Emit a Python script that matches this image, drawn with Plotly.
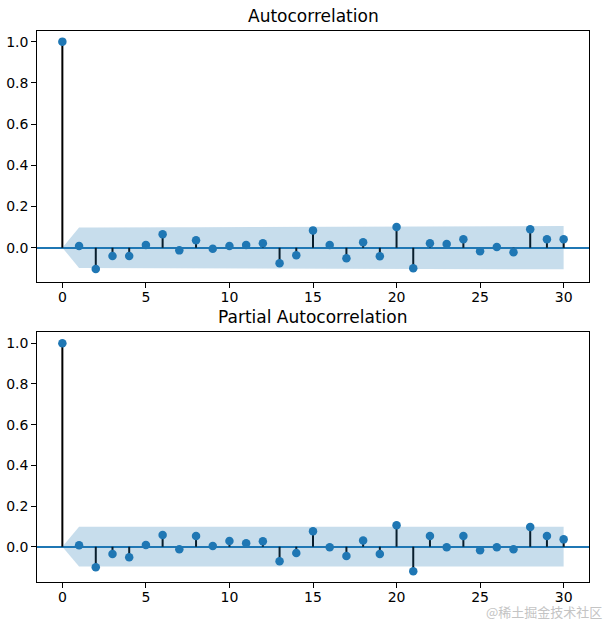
import numpy as np
import plotly.graph_objects as go

# ---- data ----
lags = list(range(0, 31))
acf_values = [1.0, 0.008, -0.103, -0.040, -0.040, 0.013, 0.065, -0.013, 0.036, -0.005,
              0.008, 0.013, 0.021, -0.076, -0.037, 0.084, 0.013, -0.051, 0.026, -0.042,
              0.100, -0.100, 0.021, 0.018, 0.041, -0.017, 0.003, -0.022, 0.089, 0.041, 0.041]
pacf_values = [1.0, 0.007, -0.101, -0.036, -0.052, 0.008, 0.058, -0.013, 0.053, 0.003,
               0.028, 0.017, 0.027, -0.072, -0.031, 0.076, -0.003, -0.046, 0.031, -0.036,
               0.105, -0.121, 0.053, -0.003, 0.053, -0.018, -0.003, -0.013, 0.097, 0.053, 0.036]
nobs = 400
x_ticks = [0, 5, 10, 15, 20, 25, 30]
y_ticks = [0.0, 0.2, 0.4, 0.6, 0.8, 1.0]
titles = ["Autocorrelation", "Partial Autocorrelation"]
watermark = "@稀土掘金技术社区"

C0 = "#1f77b4"
BAND = "rgba(31,119,180,0.25)"
FONT = "DejaVu Sans"

# confidence bands (as statsmodels computes them)
z = 1.96
acf_arr = np.array(acf_values)
acf_se = np.zeros(len(lags))
acf_se[1] = 1 / np.sqrt(nobs)
acf_se[2:] = np.sqrt((1 + 2 * np.cumsum(acf_arr[1:-1] ** 2)) / nobs)
acf_band = z * acf_se
pacf_band = np.array([0.0] + [z / np.sqrt(nobs)] * (len(lags) - 1))


def stems(xs, ys):
    sx, sy = [], []
    for xv, yv in zip(xs, ys):
        sx += [xv, xv, None]
        sy += [0, yv, None]
    return sx, sy


fig = go.Figure()
for i, (vals, band) in enumerate([(acf_values, acf_band), (pacf_values, pacf_band)]):
    xa = "x" if i == 0 else "x2"
    ya = "y" if i == 0 else "y2"
    sx, sy = stems(lags, vals)
    fig.add_trace(go.Scatter(x=sx, y=sy, mode="lines", line=dict(color="black", width=2),
                             xaxis=xa, yaxis=ya, hoverinfo="skip", showlegend=False))
    fig.add_trace(go.Scatter(x=lags, y=vals, mode="markers",
                             marker=dict(color=C0, size=8.5, line=dict(width=0)),
                             xaxis=xa, yaxis=ya, showlegend=False))
    bx = lags + lags[::-1]
    by = list(band) + list(-band[::-1])
    fig.add_trace(go.Scatter(x=bx, y=by, mode="lines", fill="toself", fillcolor=BAND,
                             line=dict(width=0), xaxis=xa, yaxis=ya, hoverinfo="skip",
                             showlegend=False))

W, H = 607, 621
xdom = [37.3 / W, 588.7 / W]
axis_common = dict(showline=True, mirror=True, linecolor="black", linewidth=1.1,
                   ticks="outside", ticklen=5, tickwidth=1.1, tickcolor="black",
                   showgrid=False, tickfont=dict(family=FONT, size=14, color="black"))

fig.update_layout(
    width=W, height=H,
    margin=dict(l=0, r=0, t=0, b=0),
    paper_bgcolor="white", plot_bgcolor="white",
    showlegend=False,
    xaxis=dict(domain=xdom, range=[-1.5, 31.5], tickvals=x_ticks, anchor="y",
               zeroline=False, ticklabelstandoff=-3, **axis_common),
    yaxis=dict(domain=[1 - 282 / H, 1 - 30.5 / H], range=[-0.1665, 1.054], tickvals=y_ticks,
               tickformat=".1f", anchor="x", zeroline=True, zerolinecolor=C0,
               zerolinewidth=2, **axis_common),
    xaxis2=dict(domain=xdom, range=[-1.5, 31.5], tickvals=x_ticks, anchor="y2",
                zeroline=False, ticklabelstandoff=-3, **axis_common),
    yaxis2=dict(domain=[1 - 582 / H, 1 - 331.7 / H], range=[-0.1736, 1.057], tickvals=y_ticks,
                tickformat=".1f", anchor="x2", zeroline=True, zerolinecolor=C0,
                zerolinewidth=2, **axis_common),
)

xc = (xdom[0] + xdom[1]) / 2
for title, ypix in zip(titles, [15.7, 317.0]):
    fig.add_annotation(text=title, xref="paper", yref="paper", x=xc, y=1 - ypix / H,
                       xanchor="center", yanchor="middle", showarrow=False,
                       font=dict(family=FONT, size=17, color="black"))

fig.add_annotation(text=watermark, xref="paper", yref="paper", x=604 / W, y=1 - 611 / H,
                   xanchor="right", yanchor="middle", showarrow=False,
                   font=dict(family="Noto Sans CJK SC", size=13, color="#c4c4c4"))

fig.write_html("out.html",
               config={"displayModeBar": False},
               post_script="document.body.style.margin='0';document.body.style.padding='0';"
                           "document.documentElement.style.overflow='hidden';")
